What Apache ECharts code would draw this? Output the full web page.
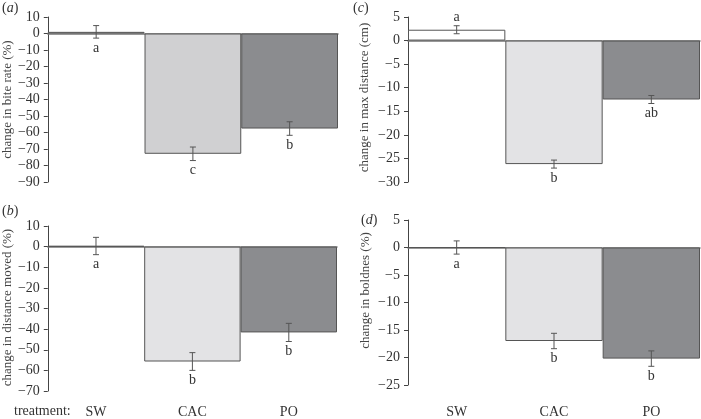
<!DOCTYPE html>
<html>
<head>
<meta charset="utf-8">
<script src="https://cdn.jsdelivr.net/npm/echarts@6/dist/echarts.min.js"></script>
<style>html,body{margin:0;padding:0;background:#fff;}#c{width:701px;height:419px;}</style>
</head>
<body>
<div id="c"></div>
<script>
// ---- data ----
var categories = ['SW', 'CAC', 'PO'];

var biteRate = [1.0, -72.9, -57.6];
var biteRateErr = [3.8, 4.1, 4.1];
var biteRateLetters = ['a', 'c', 'b'];

var distMoved = [0.3, -55.7, -41.6];
var distMovedErr = [4.2, 4.3, 4.4];
var distMovedLetters = ['a', 'b', 'b'];

var maxDist = [2.3, -26.2, -12.5];
var maxDistErr = [0.85, 0.85, 0.85];
var maxDistLetters = ['a', 'b', 'ab'];

var boldness = [0.0, -17.0, -20.2];
var boldnessErr = [1.2, 1.4, 1.4];
var boldnessLetters = ['a', 'b', 'b'];

var panelTags = ['a', 'b', 'c', 'd'];
var yNames = ['change in bite rate (%)', 'change in distance moved (%)', 'change in max distance (cm)', 'change in boldnes (%)'];
var yTicks = [
  {min: -90, max: 10, interval: 10},
  {min: -70, max: 10, interval: 10},
  {min: -30, max: 5, interval: 5},
  {min: -25, max: 5, interval: 5}
];
var treatmentLabel = 'treatment:';

// ---- layout / style ----
var serif = '"Liberation Serif", "DejaVu Serif", serif';
var panels = [
  {vals: biteRate, errs: biteRateErr, letters: biteRateLetters, grid: {left: 47, top: 17, width: 291, height: 165}, cac: '#d0d0d2', nameGap: 30, namePad: [0, 0, 0, 0], bottomLabels: false},
  {vals: distMoved, errs: distMovedErr, letters: distMovedLetters, grid: {left: 45, top: 226, width: 292, height: 165}, cac: '#e3e3e5', nameGap: 28, namePad: [0, 0, 0, 2], bottomLabels: true, labelMargin: 14},
  {vals: maxDist, errs: maxDistErr, letters: maxDistLetters, grid: {left: 408, top: 17, width: 292, height: 165}, cac: '#e3e3e5', nameGap: 37, namePad: [0, 0, 0, 4], bottomLabels: false},
  {vals: boldness, errs: boldnessErr, letters: boldnessLetters, grid: {left: 408, top: 220, width: 292, height: 165}, cac: '#e3e3e5', nameGap: 36, namePad: [0, 0, 0, 24], bottomLabels: true, labelMargin: 20}
];
var white = '#ffffff', dark = '#8b8c8f', edge = '#555555';

var grids = [], xAxes = [], yAxes = [], series = [];
panels.forEach(function (p, i) {
  grids.push(Object.assign({containLabel: false}, p.grid));
  var xMain = xAxes.length;
  xAxes.push({
    gridIndex: i, type: 'category', data: categories,
    axisLine: {show: true, onZero: true, lineStyle: {color: '#777', width: 1.5}},
    axisTick: {show: false}, axisLabel: {show: false}, splitLine: {show: false}
  });
  if (p.bottomLabels) {
    xAxes.push({
      gridIndex: i, type: 'category', data: categories, position: 'bottom',
      axisLine: {show: false, onZero: false}, axisTick: {show: false}, splitLine: {show: false},
      axisLabel: {show: true, margin: p.labelMargin, fontFamily: serif, fontSize: 14, color: '#333'}
    });
  }
  yAxes.push({
    gridIndex: i, type: 'value', min: yTicks[i].min, max: yTicks[i].max, interval: yTicks[i].interval,
    axisLine: {show: true, lineStyle: {color: '#444', width: 1}},
    axisTick: {show: true, length: 4, lineStyle: {color: '#444'}},
    splitLine: {show: false},
    axisLabel: {fontFamily: serif, fontSize: 14, color: '#333', margin: 8,
      formatter: function (v) { return String(v).replace('-', '\u2212'); }},
    name: yNames[i], nameLocation: 'middle', nameGap: p.nameGap,
    nameTextStyle: {fontFamily: serif, fontSize: 13, color: '#444', padding: p.namePad}
  });
  var fills = [white, p.cac, dark];
  series.push({
    type: 'bar', xAxisIndex: xMain, yAxisIndex: i, z: 2,
    barCategoryGap: '0%',
    data: p.vals.map(function (v, k) {
      return {value: v, itemStyle: {color: fills[k], borderColor: edge, borderWidth: 1}};
    }),
    silent: true, animation: false
  });
  series.push({
    type: 'custom', xAxisIndex: xMain, yAxisIndex: i, z: 5, silent: true, animation: false,
    data: p.vals.map(function (v, k) { return [k, v, p.errs[k]]; }),
    renderItem: function (params, api) {
      var x = api.value(0), v = api.value(1), e = api.value(2);
      var hi = api.coord([x, v + e]), lo = api.coord([x, v - e]);
      var st = {stroke: '#555', lineWidth: 1};
      return {type: 'group', children: [
        {type: 'line', shape: {x1: hi[0], y1: hi[1], x2: lo[0], y2: lo[1]}, style: st},
        {type: 'line', shape: {x1: hi[0] - 3, y1: hi[1], x2: hi[0] + 3, y2: hi[1]}, style: st},
        {type: 'line', shape: {x1: lo[0] - 3, y1: lo[1], x2: lo[0] + 3, y2: lo[1]}, style: st}
      ]};
    }
  });
  series.push({
    type: 'custom', xAxisIndex: xMain, yAxisIndex: i, z: 5, silent: true, animation: false,
    data: p.vals.map(function (v, k) { return [k, v, p.errs[k]]; }),
    renderItem: function (params, api) {
      var k = params.dataIndex;
      var x = api.value(0), v = api.value(1), e = api.value(2);
      var above = v > 2;
      var pt = api.coord([x, above ? v + e : v - e]);
      return {type: 'text', x: pt[0], y: above ? pt[1] - 1 : pt[1] + 3,
        style: {text: p.letters[k], fontFamily: serif, fontSize: 14, fill: '#333',
          align: 'center', verticalAlign: above ? 'bottom' : 'top'}};
    }
  });
});

var tagPos = [[2, 1], [2, 204], [353, 1], [361, 213]];
var graphics = panelTags.map(function (t, i) {
  return {type: 'text', left: tagPos[i][0], top: tagPos[i][1],
    style: {text: '{p|(}{i|' + t + '}{p|)}',
      rich: {p: {fontFamily: serif, fontSize: 14, fill: '#333'},
             i: {fontFamily: serif, fontSize: 14, fontStyle: 'italic', fill: '#333'}}}};
});
graphics.push({type: 'text', left: 14, top: 404,
  style: {text: treatmentLabel, fontFamily: serif, fontSize: 14, fill: '#333'}});

var chart = echarts.init(document.getElementById('c'), null, {renderer: 'canvas'});
chart.setOption({
  backgroundColor: '#fff',
  animation: false,
  grid: grids, xAxis: xAxes, yAxis: yAxes, series: series,
  graphic: graphics
});
</script>
</body>
</html>
